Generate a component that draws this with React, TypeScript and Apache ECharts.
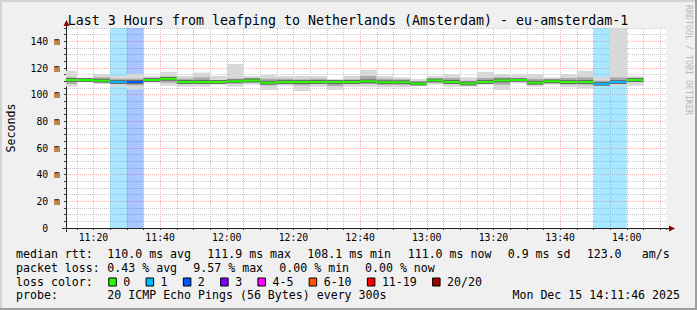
import React, { useEffect, useRef } from 'react';
import * as echarts from 'echarts';

// ---------- data ----------
const chartTitle = 'Last 3 Hours from leafping to Netherlands (Amsterdam) - eu-amsterdam-1';
const axisStart = '11:11:46';
const axisEnd = '14:11:46';
const stepMinutes = 5;

const intervalStarts = [
  '11:10', '11:15', '11:20', '11:25', '11:30', '11:35', '11:40', '11:45', '11:50', '11:55',
  '12:00', '12:05', '12:10', '12:15', '12:20', '12:25', '12:30', '12:35', '12:40', '12:45',
  '12:50', '12:55', '13:00', '13:05', '13:10', '13:15', '13:20', '13:25', '13:30', '13:35',
  '13:40', '13:45', '13:50', '13:55', '14:00',
];
// ms
const medianRtt = [
  111, 111, 110.5, 109.5, 109.5, 111, 111.9, 109.5, 109.5, 109.5,
  110, 110.7, 109, 109.5, 109.5, 109.5, 109.5, 109.5, 110, 109.3,
  109.3, 108.3, 110.7, 109.5, 108.4, 109.5, 110.7, 111, 109, 110,
  109.5, 109.5, 108.1, 109.5, 111,
];
const pingMin = [
  106, 109.5, 108, 106, 104, 109, 106.7, 106, 106, 107.5,
  106, 107.5, 103.5, 106.7, 102.7, 106, 103.5, 106, 106, 105.5,
  105.5, 106.7, 107.5, 106, 106, 107.5, 103.5, 108.5, 106, 107.5,
  105.5, 104.7, 106.5, 106.7, 106.7,
];
const pingLow = [
  108, 110, 109, 108, 107, 110, 109, 108, 108, 108.5,
  108.5, 109, 107, 108, 107, 108, 106.5, 108, 108, 107.5,
  107.5, 107.5, 109, 108, 107, 108.5, 107.5, 110, 107.5, 108.5,
  107.5, 107.5, 107.3, 108, 109.5,
];
const pingHigh = [
  113, 112, 113, 112, 112, 112.5, 113.5, 112, 113, 111,
  112, 112.5, 112, 112, 111.5, 112, 110.5, 111.5, 114, 112,
  111.5, 110, 112, 112.5, 110.5, 112.5, 113, 112.5, 112, 111.5,
  112.5, 113, 110.5, 113, 112.5,
];
const pingMax = [
  118, 112.5, 115.3, 114, 115.5, 114, 117, 114, 116.5, 114,
  123, 114, 114.7, 114, 114, 114, 111.7, 114, 118.5, 114,
  113, 111.7, 114, 115.5, 113, 117, 115.5, 114.7, 115.5, 113,
  115.5, 118, 113, 160, 114,
];
// lost pings out of 20
const lossCount = [
  0, 0, 0, 1, 2, 0, 0, 0, 0, 0,
  0, 0, 0, 0, 0, 0, 0, 0, 0, 0,
  0, 0, 0, 0, 0, 0, 0, 0, 0, 0,
  0, 0, 1, 1, 0,
];

const lossLabels = ['0', '1', '2', '3', '4-5', '6-10', '11-19', '20/20'];
const lossMaxOfBucket = [0, 1, 2, 3, 5, 10, 19, 20];
const lossColors = ['#26ff00', '#00b8ff', '#0059ff', '#7e00ff', '#ff00ff', '#ff5500', '#ff0000', '#a10000'];

const rttStats = ['median rtt:', '110.0 ms avg', '111.9 ms max', '108.1 ms min', '111.0 ms now', '0.9 ms sd', '123.0', 'am/s'];
const lossStats = ['packet loss:', '0.43 % avg', '9.57 % max', '0.00 % min', '0.00 % now'];
const lossColorTitle = 'loss color:';
const probeStats = ['probe:', '20 ICMP Echo Pings (56 Bytes) every 300s'];
const timestamp = 'Mon Dec 15 14:11:46 2025';
const watermark = 'RRDTOOL / TOBI OETIKER';
const yAxisName = 'Seconds';

// ---------- helpers ----------
const MONO = '"DejaVu Sans Mono", monospace';
const toMin = (s: string) => {
  const p = s.split(':').map(Number);
  return p[0] * 60 + p[1] + (p[2] || 0) / 60;
};
const pad2 = (n: number) => (n < 10 ? '0' + n : '' + n);
const lossColor = (n: number) => {
  for (let i = 0; i < lossMaxOfBucket.length; i++) if (n <= lossMaxOfBucket[i]) return lossColors[i];
  return lossColors[lossColors.length - 1];
};

const rows = intervalStarts.map((t, i) => [
  toMin(t), pingMin[i], pingLow[i], medianRtt[i], pingHigh[i], pingMax[i], lossCount[i],
]);

const xMin = toMin(axisStart);
const xMax = toMin(axisEnd);

function clampX(params: any, api: any, s: number) {
  const cs = params.coordSys;
  const x0 = Math.max(api.coord([s, 0])[0], cs.x);
  const x1 = Math.min(api.coord([s + stepMinutes, 0])[0], cs.x + cs.width);
  return [x0, x1, cs];
}

const renderLossBg = (params: any, api: any) => {
  const loss = api.value(6);
  if (!loss) return null;
  const [x0, x1, cs] = clampX(params, api, api.value(0)) as any;
  if (x1 <= x0) return null;
  return {
    type: 'rect',
    shape: { x: x0, y: cs.y, width: x1 - x0, height: cs.height },
    style: { fill: lossColor(loss), opacity: 0.34 },
  };
};

const renderSmoke = (params: any, api: any) => {
  const s = api.value(0);
  const [x0, x1, cs] = clampX(params, api, s) as any;
  if (x1 <= x0) return null;
  const top = cs.y;
  const bottom = cs.y + cs.height;
  const yOf = (v: number) => Math.max(top, Math.min(bottom, api.coord([s, v])[1]));
  const band = (lo: number, hi: number, fill: string) => ({
    type: 'rect',
    shape: { x: x0, y: yOf(hi), width: x1 - x0, height: yOf(lo) - yOf(hi) },
    style: { fill },
  });
  const med = api.value(3);
  return {
    type: 'group',
    children: [
      band(api.value(1), api.value(5), '#d8d8d8'),
      band(api.value(2), api.value(4), '#aaaaaa'),
      band(med - 1.4, med + 1.4, '#626262'),
      band(med - 0.75, med + 0.75, lossColor(api.value(6))),
    ],
  };
};

// ---------- legend / text graphics ----------
const charW = 6.98;
const txt = (text: string, x: number, y: number, extra: any = {}) => ({
  type: 'text',
  x,
  y,
  silent: true,
  style: {
    text,
    fill: '#000',
    fontFamily: MONO,
    fontSize: 11.6,
    verticalAlign: 'middle',
    align: 'left',
    ...extra,
  },
});

function buildGraphics() {
  const g: any[] = [];
  // frame
  g.push({ type: 'rect', shape: { x: 0, y: 0, width: 697, height: 2 }, style: { fill: '#d4d4d4' }, silent: true });
  g.push({ type: 'rect', shape: { x: 0, y: 0, width: 2, height: 310 }, style: { fill: '#d4d4d4' }, silent: true });
  g.push({ type: 'rect', shape: { x: 0, y: 308, width: 697, height: 2 }, style: { fill: '#9e9e9e' }, silent: true });
  g.push({ type: 'rect', shape: { x: 695, y: 0, width: 2, height: 310 }, style: { fill: '#9e9e9e' }, silent: true });

  // title
  g.push(txt(chartTitle, 348, 20.5, { fontSize: 13.3, align: 'center' }));
  // watermark
  g.push({
    type: 'text', x: 688.5, y: 60, rotation: -Math.PI / 2, silent: true,
    style: { text: watermark, fill: '#b8b8b8', fontFamily: MONO, fontSize: 8.3, align: 'center', verticalAlign: 'middle' },
  });

  // axis extensions and arrows
  g.push({ type: 'line', shape: { x1: 66.5, y1: 232, x2: 66.5, y2: 24 }, style: { stroke: '#202020', lineWidth: 1 }, silent: true });
  g.push({ type: 'polygon', shape: { points: [[63.5, 26], [69.5, 26], [66.5, 20]] }, style: { fill: '#8b0000' }, silent: true });
  g.push({ type: 'line', shape: { x1: 62, y1: 228.5, x2: 670, y2: 228.5 }, style: { stroke: '#202020', lineWidth: 1 }, silent: true });
  g.push({ type: 'polygon', shape: { points: [[669, 225.5], [669, 231.5], [675, 228.5]] }, style: { fill: '#8b0000' }, silent: true });

  // stats row 1
  const r1x = [16, 107.3, 207.3, 307.3, 407.7, 507.7, 586.7, 641.7];
  rttStats.forEach((s, i) => g.push(txt(s, r1x[i], 254.3)));
  // stats row 2
  const r2x = [16, 107.3, 193.3, 279.3, 365];
  lossStats.forEach((s, i) => g.push(txt(s, r2x[i], 267.8)));
  // loss colors row
  g.push(txt(lossColorTitle, 16, 281.6));
  let x = 108.3;
  lossLabels.forEach((lab, i) => {
    g.push({
      type: 'rect', silent: true,
      shape: { x: x + 0.5, y: 278, width: 7.5, height: 8 },
      style: { fill: lossColors[i], stroke: '#000', lineWidth: 1 },
    });
    const lx = x + 15;
    g.push(txt(lab, lx, 281.6));
    x = lx + lab.length * charW + 15.3;
  });
  // probe row
  g.push(txt(probeStats[0], 16, 295.3));
  g.push(txt(probeStats[1], 107.3, 295.3));
  g.push(txt(timestamp, 680, 295.3, { align: 'right' }));
  return g;
}

const fmtTime = (v: number) => {
  const m = Math.round(v);
  return `${Math.floor(m / 60)}:${pad2(m % 60)}`;
};

export default function App() {
  const ref = useRef<HTMLDivElement>(null);
  useEffect(() => {
    const chart = echarts.init(ref.current!, null, { renderer: 'svg' });
    const option: any = {
      animation: false,
      backgroundColor: '#f0f0f0',
      textStyle: { fontFamily: MONO },
      grid: {
        left: 66, top: 28, width: 600, height: 200, show: true, backgroundColor: '#ffffff', borderWidth: 0,
        containLabel: false, outerBoundsMode: 'none',
      },
      xAxis: [
        {
          type: 'value', min: xMin, max: xMax, splitNumber: 9, minInterval: 20, maxInterval: 20,
          position: 'bottom', z: 1,
          axisLine: { show: true, lineStyle: { color: '#202020', width: 1 } },
          axisTick: { show: false },
          axisLabel: {
            show: true, showMinLabel: false, showMaxLabel: false, margin: 4,
            color: '#000', fontFamily: MONO, fontSize: 9.8, formatter: fmtTime,
          },
          splitLine: { show: true, showMinLine: false, showMaxLine: false, lineStyle: { color: '#ffb0b0', type: [1, 1], width: 1 } },
        },
        {
          type: 'value', min: xMin, max: xMax, splitNumber: 36, minInterval: 5, maxInterval: 5,
          position: 'bottom', z: 0,
          axisLine: { show: false },
          axisTick: { show: true, length: 2, lineStyle: { color: '#404040' } },
          axisLabel: { show: false },
          splitLine: { show: true, showMinLine: false, showMaxLine: false, lineStyle: { color: '#c8c8c8', type: [1, 1], width: 1 } },
        },
      ],
      yAxis: [
        {
          type: 'value', min: 0, max: 150, interval: 20, position: 'left', z: 1,
          name: yAxisName, nameLocation: 'middle', nameGap: 49, nameRotate: 90,
          nameTextStyle: { color: '#000', fontFamily: MONO, fontSize: 11.6 },
          axisLine: { show: true, lineStyle: { color: '#202020', width: 1 } },
          axisTick: { show: false },
          axisLabel: {
            show: true, showMaxLabel: false, margin: 6, color: '#000', fontFamily: MONO, fontSize: 9.8,
            formatter: (v: number) => (v === 0 ? '{z|0}' : `${v} m`),
            rich: { z: { color: '#000', fontFamily: MONO, fontSize: 9.8, padding: [0, 11.8, 0, 0] } },
          },
          splitLine: { show: true, showMinLine: false, showMaxLine: false, lineStyle: { color: '#ffb0b0', type: [1, 1], width: 1 } },
        },
        {
          type: 'value', min: 0, max: 150, interval: 5, position: 'left', z: 0,
          axisLine: { show: false },
          axisTick: { show: true, length: 2, lineStyle: { color: '#404040' } },
          axisLabel: { show: false },
          splitLine: { show: true, showMinLine: false, showMaxLine: true, lineStyle: { color: '#c8c8c8', type: [1, 1], width: 1 } },
        },
      ],
      series: [
        {
          type: 'custom', name: 'loss', xAxisIndex: 0, yAxisIndex: 0, z: 2,
          renderItem: renderLossBg, data: rows, encode: { x: 0, y: 3 }, silent: true,
        },
        {
          type: 'custom', name: 'smoke', xAxisIndex: 0, yAxisIndex: 0, z: 3,
          renderItem: renderSmoke, data: rows, encode: { x: 0, y: 3 }, silent: true,
        },
      ],
      graphic: { elements: buildGraphics() },
    };
    chart.setOption(option);
    return () => chart.dispose();
  }, []);
  return <div ref={ref} style={{ position: 'absolute', left: 0, top: 0, width: 697, height: 310 }} />;
}
